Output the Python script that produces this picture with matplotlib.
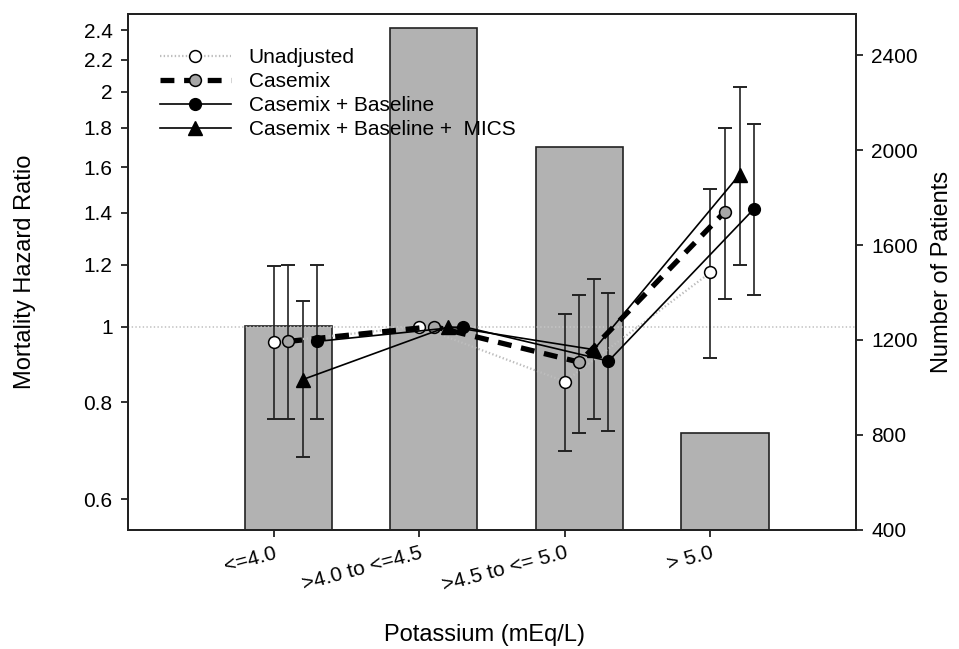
import numpy as np
import matplotlib
matplotlib.use('Agg')
import matplotlib.pyplot as plt
from matplotlib.lines import Line2D

plt.rcParams['font.family'] = ['Liberation Sans', 'DejaVu Sans']
plt.rcParams['lines.scale_dashes'] = False

# data
categories = ['<=4.0', '>4.0 to <=4.5', '>4.5 to <= 5.0', '> 5.0']
n_patients = [1260, 2515, 2015, 806]

unadj = [0.955, 1.0, 0.85, 1.173]
unadj_lo = [0.762, np.nan, 0.692, 0.912]
unadj_hi = [1.197, np.nan, 1.039, 1.50]

casemix = [0.957, 1.0, 0.90, 1.404]
casemix_lo = [0.762, np.nan, 0.731, 1.086]
casemix_hi = [1.20, np.nan, 1.099, 1.80]

mics = [0.855, 1.0, 0.934, 1.566]
mics_lo = [0.68, np.nan, 0.76, 1.20]
mics_hi = [1.077, np.nan, 1.151, 2.03]

baseline = [0.957, 1.0, 0.903, 1.416]
baseline_lo = [0.76, np.nan, 0.734, 1.096]
baseline_hi = [1.20, np.nan, 1.104, 1.82]

hr_ticks = [0.6, 0.8, 1, 1.2, 1.4, 1.6, 1.8, 2, 2.2, 2.4]
hr_ticklabels = ['0.6', '0.8', '1', '1.2', '1.4', '1.6', '1.8', '2', '2.2', '2.4']
n_ticks = [400, 800, 1200, 1600, 2000, 2400]

pos = np.arange(1, len(categories) + 1)
dark = '#222222'

fig = plt.figure(figsize=(9.59, 6.49), dpi=100)
ax = fig.add_axes([0.1335, 0.1841, 0.7591, 0.7943])
ax2 = ax.twinx()

# bars (number of patients) on the right axis, behind everything
ax2.bar(pos + 0.1, n_patients, width=0.6, color='#b2b2b2', edgecolor=dark, linewidth=1.2)
ax2.set_ylim(400, 2575)
ax2.set_yticks(n_ticks)
ax2.set_ylabel('Number of Patients', fontsize=17)
ax2.yaxis.set_label_coords(1.118, 0.5)
ax2.yaxis.label.set_va('center')

ax.set_zorder(ax2.get_zorder() + 1)
ax.patch.set_visible(False)

ax.set_yscale('log')
ax.set_ylim(0.549, 2.517)
ax.set_xlim(0, 5)
ax.axhline(1.0, color='#c4c4c4', lw=1.2, ls=':', zorder=1)


def draw(offset, y, lo, hi, **kw):
    x = pos + offset
    y = np.array(y); lo = np.array(lo); hi = np.array(hi)
    m = ~np.isnan(lo)
    ax.errorbar(x[m], y[m], yerr=[y[m] - lo[m], hi[m] - y[m]], fmt='none',
                ecolor=dark, elinewidth=1.2, capsize=4.8, capthick=1.4, zorder=2)
    ax.plot(x, y, zorder=3, **kw)


draw(0.0, unadj, unadj_lo, unadj_hi, color='#bdbdbd', lw=1.6, ls=':',
     marker='o', ms=8.5, mfc='white', mec='black', mew=1.1)
draw(0.1, casemix, casemix_lo, casemix_hi, color='black', lw=3.8, dashes=[10, 7],
     marker='o', ms=8.5, mfc='#a6a6a6', mec='black', mew=1.1)
draw(0.3, baseline, baseline_lo, baseline_hi, color='black', lw=1.2,
     marker='o', ms=8.5, mfc='black', mec='black')
draw(0.2, mics, mics_lo, mics_hi, color='black', lw=1.2,
     marker='^', ms=9.5, mfc='black', mec='black')

ax.set_yticks(hr_ticks)
ax.set_yticklabels(hr_ticklabels)
ax.yaxis.set_minor_locator(matplotlib.ticker.NullLocator())
ax.set_xticks(pos)
ax.set_xticklabels(categories, rotation=15, ha='right', va='top', rotation_mode='anchor')
ax.set_ylabel('Mortality Hazard Ratio', fontsize=17)
ax.yaxis.set_label_coords(-0.1415, 0.5)
ax.yaxis.label.set_va('center')
ax.set_xlabel('Potassium (mEq/L)', fontsize=17)
ax.xaxis.set_label_coords(0.49, -0.205)
ax.xaxis.label.set_va('center')

for a in (ax, ax2):
    for s in a.spines.values():
        s.set_color(dark)
        s.set_linewidth(1.4)
    a.tick_params(direction='out', length=5, width=1.3, color=dark, labelsize=15, pad=6)
ax.tick_params(axis='x', pad=5)
ax.tick_params(top=False, right=False)

handles = [
    Line2D([], [], color='#bdbdbd', lw=1.6, ls=':', marker='o', ms=8.5, mfc='white', mec='black', mew=1.1),
    Line2D([], [], color='black', lw=3.8, dashes=[10, 7], marker='o', ms=8.5, mfc='#a6a6a6', mec='black', mew=1.1),
    Line2D([], [], color='black', lw=1.2, marker='o', ms=8.5, mfc='black', mec='black'),
    Line2D([], [], color='black', lw=1.2, marker='^', ms=9.5, mfc='black', mec='black'),
]
labels = ['Unadjusted', 'Casemix', 'Casemix + Baseline', 'Casemix + Baseline +  MICS']
ax.legend(handles, labels, loc='upper left', bbox_to_anchor=(0.044, 0.934), frameon=False,
          fontsize=15, handlelength=3.4, handletextpad=0.85, labelspacing=0.24,
          borderpad=0, borderaxespad=0)

fig.savefig('out.png', dpi=100)
